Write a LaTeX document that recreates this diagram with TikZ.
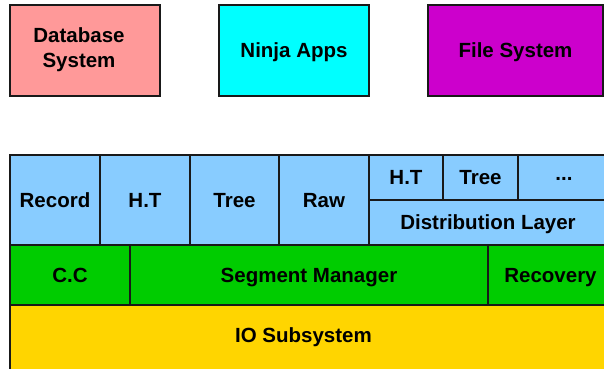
\documentclass[tikz,border=0pt]{standalone}
\usepackage{fontspec}
\setmainfont{Liberation Sans}
\definecolor{dbpink}{HTML}{FF9999}
\definecolor{ninjacyan}{HTML}{00FFFF}
\definecolor{fsmagenta}{HTML}{CC00CC}
\definecolor{layerblue}{HTML}{88CCFF}
\definecolor{layergreen}{HTML}{00CC00}
\definecolor{ioyellow}{HTML}{FFD500}
\tikzset{
  cell/.style={draw=black!90, line width=1.3pt, rectangle, inner sep=0pt,
    font=\fontsize{20.5}{25}\selectfont\bfseries, text height=14.7pt, text depth=0pt},
  lbl/.style={inner sep=0pt, font=\fontsize{20.5}{25}\selectfont\bfseries, align=center},
}
% cell from (x1,y1) to (x2,y2), pixel-like units with y pointing down
\newcommand{\cellbox}[7]{%
  \node[cell, fill=#6, minimum width={(#4-#2)*1pt}, minimum height={(#5-#3)*1pt}]
    (#1) at ({(#2+#4)/2},{(#3+#5)/2}) {#7};}
\begin{document}
\begin{tikzpicture}[x=1pt, y=-1pt]
\useasboundingbox (0,0) rectangle (604,368);
\clip (0,0) rectangle (604,368);
% client boxes on top
\cellbox{db}{10}{5}{160}{96}{dbpink}{}
\node[lbl] (dbtext) at (79,50) {Database\\System};
\cellbox{ninja}{219}{5}{369}{96}{ninjacyan}{Ninja Apps}
\cellbox{fs}{428}{5}{603}{96}{fsmagenta}{File System}
% access methods
\cellbox{record}{10}{155}{100}{245}{layerblue}{Record}
\cellbox{ht}{100}{155}{190}{245}{layerblue}{H.T}
\cellbox{tree}{190}{155}{279}{245}{layerblue}{Tree}
\cellbox{raw}{279}{155}{369}{245}{layerblue}{Raw}
\cellbox{dht}{369}{155}{443}{200}{layerblue}{H.T}
\cellbox{dtree}{443}{155}{518}{200}{layerblue}{Tree}
\cellbox{dmore}{518}{155}{610}{200}{layerblue}{\raisebox{4pt}{...}}
\cellbox{dist}{369}{200}{607}{245}{layerblue}{Distribution Layer}
% segment layer
\cellbox{cc}{10}{245}{130}{305}{layergreen}{C.C}
\cellbox{segmgr}{130}{245}{488}{305}{layergreen}{Segment Manager}
\cellbox{recovery}{488}{245}{613}{305}{layergreen}{Recovery}
% IO
\cellbox{io}{10}{305}{613}{372}{ioyellow}{}
\node[lbl, text height=14.7pt, text depth=0pt] (iotext) at (303.5,335) {IO Subsystem};
\end{tikzpicture}
\end{document}
